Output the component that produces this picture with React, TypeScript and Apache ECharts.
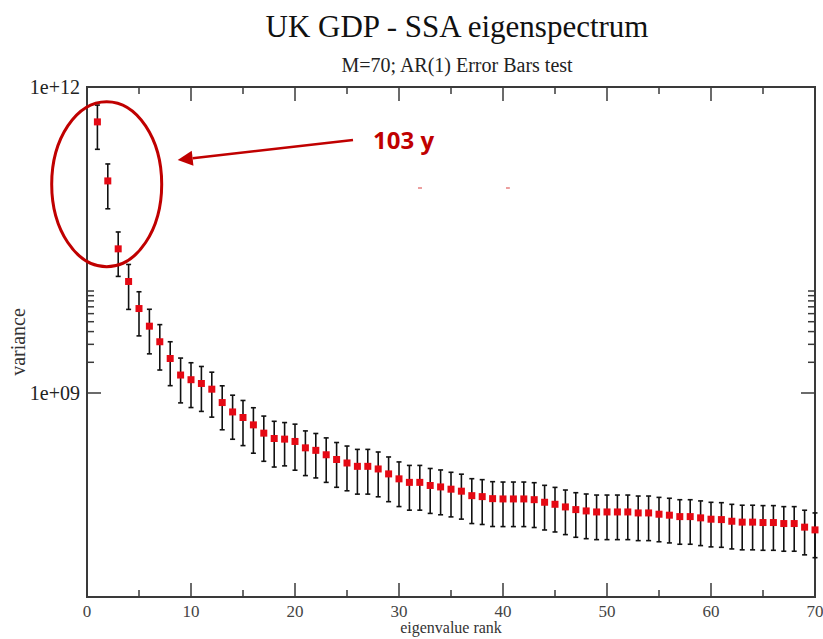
import React, { useEffect, useRef } from "react";
import * as echarts from "echarts";

const ranks = Array.from({ length: 70 }, (_, i) => i + 1);

const variance = [
  4.55e11, 1.2e11, 2.59e10, 1.24e10, 6.73e9, 4.52e9, 3.18e9, 2.18e9, 1.5e9, 1.35e9,
  1.24e9, 1.09e9, 8.06e8, 6.52e8, 5.75e8, 4.87e8, 4.04e8, 3.58e8, 3.53e8, 3.35e8,
  2.9e8, 2.74e8, 2.48e8, 2.23e8, 2.06e8, 1.91e8, 1.91e8, 1.8e8, 1.61e8, 1.44e8,
  1.33e8, 1.33e8, 1.24e8, 1.2e8, 1.14e8, 1.09e8, 9.85e7, 9.64e7, 9.21e7, 9.15e7,
  9.15e7, 9.15e7, 9.0e7, 8.49e7, 8.11e7, 7.64e7, 7.19e7, 6.98e7, 6.82e7, 6.82e7,
  6.82e7, 6.82e7, 6.67e7, 6.67e7, 6.48e7, 6.34e7, 6.14e7, 6.14e7, 5.97e7, 5.79e7,
  5.74e7, 5.53e7, 5.42e7, 5.42e7, 5.37e7, 5.37e7, 5.25e7, 5.25e7, 4.84e7, 4.55e7,
];

const errors = [
  2.1e11, 5.6e10, 1.2e10, 5.8e9, 3.1e9, 2.1e9, 1.5e9, 1.0e9, 7.0e8, 6.3e8,
  5.8e8, 5.1e8, 3.7e8, 3.0e8, 2.7e8, 2.3e8, 1.9e8, 1.7e8, 1.6e8, 1.6e8,
  1.35e8, 1.27e8, 1.15e8, 1.04e8, 9.6e7, 8.9e7, 8.9e7, 8.4e7, 7.5e7, 6.7e7,
  6.2e7, 6.2e7, 5.8e7, 5.6e7, 5.3e7, 5.1e7, 4.6e7, 4.5e7, 4.3e7, 4.25e7,
  4.25e7, 4.25e7, 4.2e7, 3.95e7, 3.77e7, 3.55e7, 3.34e7, 3.25e7, 3.17e7, 3.17e7,
  3.17e7, 3.17e7, 3.1e7, 3.1e7, 3.0e7, 2.95e7, 2.85e7, 2.85e7, 2.78e7, 2.69e7,
  2.67e7, 2.57e7, 2.52e7, 2.52e7, 2.5e7, 2.5e7, 2.44e7, 2.44e7, 2.25e7, 2.12e7,
];

const yLabelValues = [1e9, 1e12];
const yLabelTexts = ["1e+09", "1e+12"];
const yMajorTicks = [1e9];
const yMinorTicks = [2e9, 3e9, 4e9, 5e9, 6e9, 7e9, 8e9, 9e9, 1e10];

const titleText = "UK GDP - SSA eigenspectrum";
const subtitleText = "M=70; AR(1) Error Bars test";
const xName = "eigenvalue rank";
const yName = "variance";
const annotationText = "103 y";

const X_MIN = 0;
const X_MAX = 70;
const Y_MIN = 1e7;
const Y_MAX = 1e12;

const AXIS = "#3a3a3a";
const SERIF = "'Liberation Serif', 'DejaVu Serif', serif";
const ANN = "#c00000";

export default function App() {
  const ref = useRef<HTMLDivElement>(null);

  useEffect(() => {
    if (!ref.current) return;
    const chart = echarts.init(ref.current, null, { renderer: "svg" });

    const tickSeries = (vals: number[], len: number) => ({
      type: "custom",
      data: vals.map((v) => [X_MIN, v]),
      encode: { x: 0, y: 1 },
      clip: false,
      silent: true,
      z: 5,
      renderItem: (_p: any, api: any) => {
        const v = api.value(1);
        const l = api.coord([X_MIN, v]);
        const r = api.coord([X_MAX, v]);
        return {
          type: "group",
          children: [
            { type: "line", shape: { x1: l[0], y1: l[1], x2: l[0] + len, y2: l[1] }, style: { stroke: AXIS, lineWidth: 1.5 } },
            { type: "line", shape: { x1: r[0], y1: r[1], x2: r[0] - len, y2: r[1] }, style: { stroke: AXIS, lineWidth: 1.5 } },
          ],
        };
      },
    });

    const tipX = 177.7, tipY = 160, startX = 353, startY = 140;
    const dx = tipX - startX, dy = tipY - startY;
    const dl = Math.sqrt(dx * dx + dy * dy);
    const ux = dx / dl, uy = dy / dl;
    const headLen = 15, headW = 7.5;
    const bx = tipX - ux * headLen, by = tipY - uy * headLen;

    const xAxisCommon = {
      type: "value",
      min: X_MIN,
      max: X_MAX,
      interval: 10,
      splitLine: { show: false },
      axisLine: { show: true, lineStyle: { color: AXIS, width: 2 } },
      axisTick: { show: true, inside: true, length: 14, lineStyle: { color: AXIS, width: 1.5 } },
      minorTick: { show: true, splitNumber: 2, length: 7, lineStyle: { color: AXIS, width: 1.5 } },
      minorSplitLine: { show: false },
    };

    chart.setOption({
      animation: false,
      backgroundColor: "#ffffff",
      title: {
        text: titleText,
        subtext: subtitleText,
        left: 452,
        textAlign: "center",
        top: 6,
        itemGap: 13,
        textStyle: { fontFamily: SERIF, fontSize: 31, fontWeight: "normal", color: "#111" },
        subtextStyle: { fontFamily: SERIF, fontSize: 20, color: "#222" },
      },
      grid: {
        left: 87,
        right: 8,
        top: 87,
        bottom: 42,
        containLabel: false,
        outerBoundsMode: "none",
        show: true,
        borderColor: AXIS,
        borderWidth: 2,
        backgroundColor: "transparent",
      },
      xAxis: [
        {
          ...xAxisCommon,
          position: "bottom",
          name: xName,
          nameLocation: "middle",
          nameGap: 22,
          nameMoveOverlap: false,
          nameTextStyle: { fontFamily: SERIF, fontSize: 16, color: "#333" },
          axisLabel: { fontFamily: SERIF, fontSize: 17, color: "#444", margin: 6 },
        },
        {
          ...xAxisCommon,
          position: "top",
          axisLabel: { show: false },
        },
      ],
      yAxis: {
        type: "log",
        logBase: 10,
        min: Y_MIN,
        max: Y_MAX,
        interval: 1,
        splitNumber: 5,
        splitLine: { show: false },
        axisLine: { show: true, lineStyle: { color: AXIS, width: 2 } },
        axisTick: { show: false },
        name: yName,
        nameLocation: "middle",
        nameGap: 59,
        nameMoveOverlap: false,
        nameRotate: 90,
        nameTextStyle: { fontFamily: SERIF, fontSize: 20, color: "#333" },
        axisLabel: {
          fontFamily: SERIF,
          fontSize: 20,
          color: "#222",
          margin: 7,
          showMaxLabel: true,
          showMinLabel: true,
          formatter: (v: number) => {
            for (let i = 0; i < yLabelValues.length; i++) {
              if (Math.abs(Math.log10(v) - Math.log10(yLabelValues[i])) < 1e-6) return yLabelTexts[i];
            }
            return "";
          },
        },
      },
      series: [
        tickSeries(yMajorTicks, 14),
        tickSeries(yMinorTicks, 7),
        {
          type: "custom",
          name: "error",
          data: ranks.map((r, i) => [r, variance[i] - errors[i], variance[i] + errors[i]]),
          encode: { x: 0, y: [1, 2] },
          clip: false,
          z: 6,
          renderItem: (_p: any, api: any) => {
            const x = api.value(0);
            const lo = api.coord([x, api.value(1)]);
            const hi = api.coord([x, api.value(2)]);
            const c = 2.5;
            const st = { stroke: "#111", lineWidth: 1.6 };
            return {
              type: "group",
              children: [
                { type: "line", shape: { x1: lo[0], y1: lo[1], x2: hi[0], y2: hi[1] }, style: st },
                { type: "line", shape: { x1: lo[0] - c, y1: lo[1], x2: lo[0] + c, y2: lo[1] }, style: st },
                { type: "line", shape: { x1: hi[0] - c, y1: hi[1], x2: hi[0] + c, y2: hi[1] }, style: st },
              ],
            };
          },
        },
        {
          type: "scatter",
          name: "variance",
          data: ranks.map((r, i) => [r, variance[i]]),
          symbol: "rect",
          symbolSize: 7,
          clip: false,
          z: 7,
          itemStyle: { color: "#e50914", opacity: 1 },
        },
      ],
      graphic: [
        {
          type: "ellipse",
          shape: { cx: 106.7, cy: 184.2, rx: 55, ry: 82.5 },
          style: { fill: "none", stroke: ANN, lineWidth: 3 },
          z: 100,
        },
        {
          type: "line",
          shape: { x1: startX, y1: startY, x2: bx, y2: by },
          style: { stroke: ANN, lineWidth: 2.5 },
          z: 100,
        },
        {
          type: "polygon",
          shape: {
            points: [
              [tipX, tipY],
              [bx - uy * headW, by + ux * headW],
              [bx + uy * headW, by - ux * headW],
            ],
          },
          style: { fill: ANN },
          z: 100,
        },
        {
          type: "text",
          x: 373,
          y: 139,
          style: {
            text: annotationText,
            fill: ANN,
            font: "bold 24px 'Open Sans', 'Liberation Sans', sans-serif",
            textVerticalAlign: "middle",
            verticalAlign: "middle",
          },
          z: 100,
        },
        {
          type: "line",
          shape: { x1: 418, y1: 188, x2: 422, y2: 188 },
          style: { stroke: "#e06060", lineWidth: 1.2 },
          z: 100,
        },
        {
          type: "line",
          shape: { x1: 506, y1: 188, x2: 510, y2: 188 },
          style: { stroke: "#e06060", lineWidth: 1.2 },
          z: 100,
        },
      ],
    });

    return () => chart.dispose();
  }, []);

  return (
    <div
      ref={ref}
      style={{ position: "fixed", left: 0, top: 0, width: 823, height: 639, background: "#fff" }}
    />
  );
}
